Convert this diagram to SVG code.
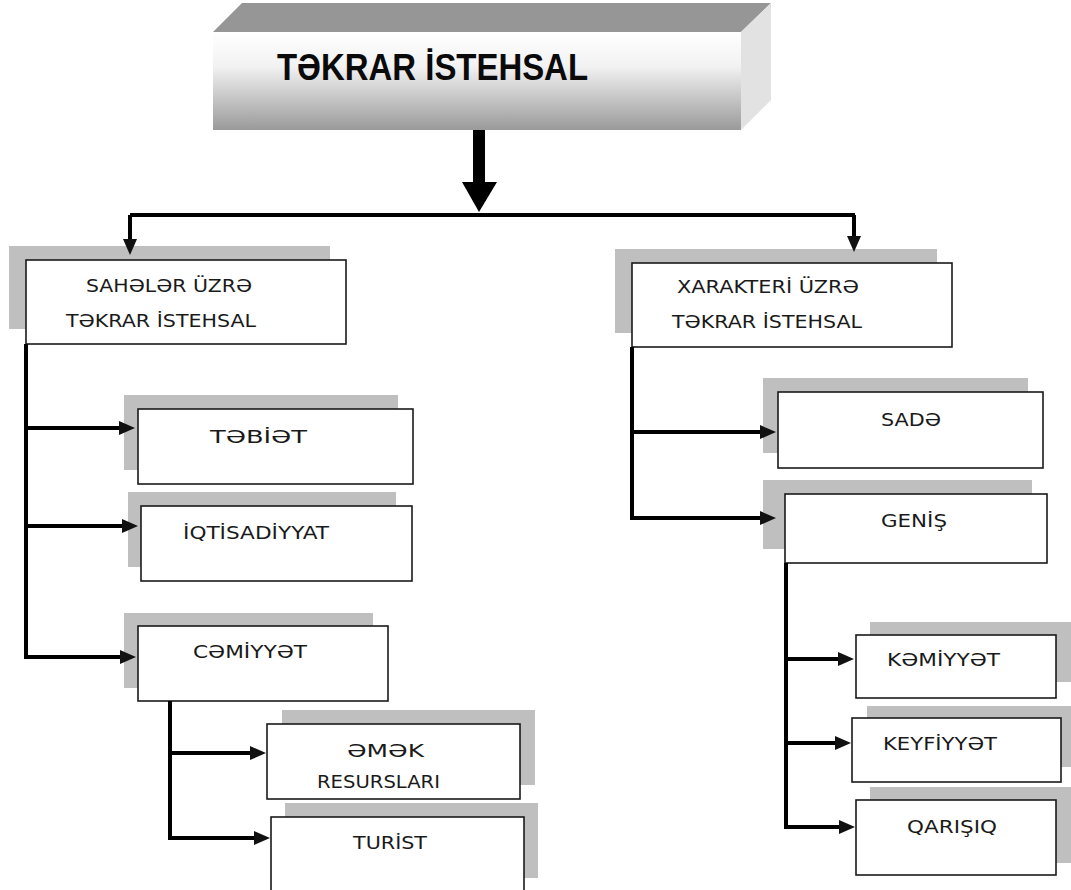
<svg xmlns="http://www.w3.org/2000/svg" width="1071" height="890" viewBox="0 0 1071 890">
<defs>
<linearGradient id="frontGrad" x1="0" y1="0" x2="0" y2="1">
<stop offset="0" stop-color="#ffffff"/>
<stop offset="0.35" stop-color="#f2f2f2"/>
<stop offset="1" stop-color="#9a9a9a"/>
</linearGradient>
<marker id="ah" markerUnits="userSpaceOnUse" markerWidth="18" markerHeight="16" refX="2" refY="7" orient="auto">
<path d="M0,0 L16,7 L0,14 z" fill="#111"/>
</marker>
</defs>
<style>
.sh{fill:#bfbfbf}
.bx{fill:#fff;stroke:#1a1a1a;stroke-width:1.6}
.lb{font-family:"DejaVu Sans","Liberation Sans",sans-serif;font-size:17px;fill:#1a1a1a}
.ttl{font-family:"Liberation Sans",Arial,sans-serif;font-weight:bold;font-size:36px;fill:#0a0a0a}
.cn{fill:none;stroke:#000;stroke-width:4;marker-end:url(#ah)}
.cnp{fill:none;stroke:#000;stroke-width:4}
</style>
<rect width="1071" height="890" fill="#fff"/>

<g id="node-takrar-istehsal">
<polygon points="213,32 242,3 771,3 741,32" fill="#969696"/>
<polygon points="741,32 771,3 771,100 741,130" fill="#e2e2e2"/>
<rect x="213" y="32" width="528" height="98" fill="url(#frontGrad)"/>
<text class="ttl" x="277" y="80" textLength="311" lengthAdjust="spacingAndGlyphs">TƏKRAR İSTEHSAL</text>
</g>

<g id="node-saheler">
<rect class="sh" x="9" y="246" width="321" height="83"/>
<rect class="bx" x="26" y="260" width="320" height="84"/>
<text class="lb" x="86" y="292" textLength="166" lengthAdjust="spacingAndGlyphs">SAHƏLƏR ÜZRƏ</text>
<text class="lb" x="66" y="327" textLength="190" lengthAdjust="spacingAndGlyphs">TƏKRAR İSTEHSAL</text>
</g>

<g id="node-xarakteri">
<rect class="sh" x="615" y="249" width="322" height="84"/>
<rect class="bx" x="632" y="263" width="320" height="84"/>
<text class="lb" x="677" y="293" textLength="182" lengthAdjust="spacingAndGlyphs">XARAKTERİ ÜZRƏ</text>
<text class="lb" x="672" y="328" textLength="190" lengthAdjust="spacingAndGlyphs">TƏKRAR İSTEHSAL</text>
</g>

<g id="node-tebiet">
<rect class="sh" x="124" y="395" width="274" height="75"/>
<rect class="bx" x="138" y="409" width="275" height="75"/>
<text class="lb" x="210" y="443" textLength="97" lengthAdjust="spacingAndGlyphs">TƏBİƏT</text>
</g>

<g id="node-iqtisadiyyat">
<rect class="sh" x="128" y="492" width="268" height="75"/>
<rect class="bx" x="141" y="506" width="271" height="75"/>
<text class="lb" x="183" y="539" textLength="146" lengthAdjust="spacingAndGlyphs">İQTİSADİYYAT</text>
</g>

<g id="node-cemiyyet">
<rect class="sh" x="124" y="613" width="249" height="75"/>
<rect class="bx" x="138" y="626" width="250" height="75"/>
<text class="lb" x="193" y="658" textLength="114" lengthAdjust="spacingAndGlyphs">CƏMİYYƏT</text>
</g>

<g id="node-emek-resurslari">
<rect class="sh" x="282" y="710" width="253" height="75"/>
<rect class="bx" x="267" y="724" width="253" height="75"/>
<text class="lb" x="347" y="757" textLength="77" lengthAdjust="spacingAndGlyphs">ƏMƏK</text>
<text class="lb" x="317" y="788" textLength="123" lengthAdjust="spacingAndGlyphs">RESURSLARI</text>
</g>

<g id="node-turist">
<rect class="sh" x="285" y="803" width="253" height="75"/>
<rect class="bx" x="271" y="817" width="253" height="90"/>
<text class="lb" x="353" y="849" textLength="74" lengthAdjust="spacingAndGlyphs">TURİST</text>
</g>

<g id="node-sade">
<rect class="sh" x="763" y="378" width="265" height="75"/>
<rect class="bx" x="778" y="392" width="265" height="76"/>
<text class="lb" x="881" y="426" textLength="60" lengthAdjust="spacingAndGlyphs">SADƏ</text>
</g>

<g id="node-genis">
<rect class="sh" x="763" y="480" width="269" height="69"/>
<rect class="bx" x="785" y="494" width="262" height="69"/>
<text class="lb" x="881" y="527" textLength="66" lengthAdjust="spacingAndGlyphs">GENİŞ</text>
</g>

<g id="node-kemiyyet">
<rect class="sh" x="870" y="622" width="205" height="60"/>
<rect class="bx" x="856" y="635" width="200" height="63"/>
<text class="lb" x="887" y="666" textLength="113" lengthAdjust="spacingAndGlyphs">KƏMİYYƏT</text>
</g>

<g id="node-keyfiyyet">
<rect class="sh" x="867" y="706" width="208" height="61"/>
<rect class="bx" x="852" y="718" width="209" height="64"/>
<text class="lb" x="883" y="750" textLength="114" lengthAdjust="spacingAndGlyphs">KEYFİYYƏT</text>
</g>

<g id="node-qarisiq">
<rect class="sh" x="870" y="787" width="205" height="76"/>
<rect class="bx" x="856" y="800" width="200" height="75"/>
<text class="lb" x="907" y="833" textLength="90" lengthAdjust="spacingAndGlyphs">QARIŞIQ</text>
</g>

<g id="connectors">
<rect x="473" y="130" width="12" height="53" fill="#000"/>
<polygon points="462,182 497,182 479,212" fill="#000"/>
<path class="cnp" d="M130,215 H855"/>
<path class="cn" d="M130,215 V241"/>
<path class="cn" d="M854,215 V238"/>
<path class="cn" d="M26,344 V657 H122"/>
<path class="cn" d="M26,428 H121"/>
<path class="cn" d="M26,526 H124"/>
<path class="cn" d="M170,701 V838 H256"/>
<path class="cn" d="M172,753 H252"/>
<path class="cn" d="M632,347 V518 H762"/>
<path class="cn" d="M632,432 H762"/>
<path class="cn" d="M786,563 V827 H841"/>
<path class="cn" d="M786,659 H840"/>
<path class="cn" d="M786,743 H837"/>
</g>
</svg>
